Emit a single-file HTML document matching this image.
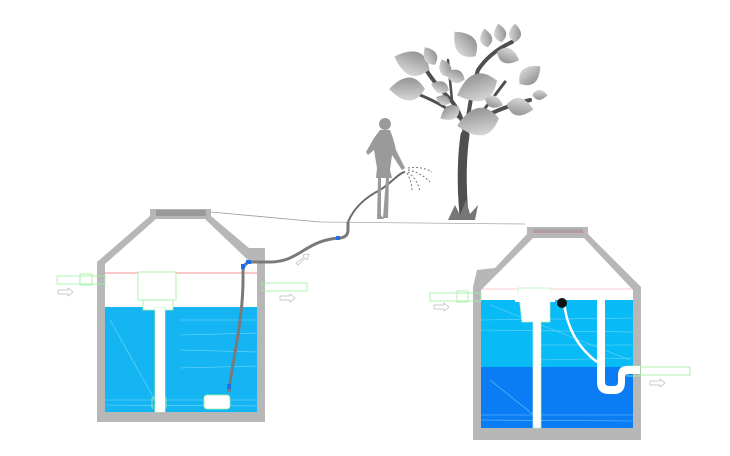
<!DOCTYPE html>
<html><head><meta charset="utf-8"><style>html,body{margin:0;padding:0;background:#fff}svg{display:block}</style></head>
<body>
<svg width="730" height="456" viewBox="0 0 730 456" xmlns="http://www.w3.org/2000/svg">
<defs>
<linearGradient id="lf" x1="0" y1="0" x2="0" y2="1"><stop offset="0" stop-color="#d6d6d6"/><stop offset="1" stop-color="#959595"/></linearGradient>
<path id="leaf" d="M-17 0 Q-4 -22 17 0 Q-4 22 -17 0 Z" fill="url(#lf)"/>
</defs>
<line x1="211" y1="212" x2="320" y2="222" stroke="#999" stroke-width="0.8"/>
<line x1="320" y1="222" x2="525" y2="224" stroke="#aaa" stroke-width="0.8"/>

<!-- LEFT TANK -->
<rect x="105" y="307" width="152" height="105" fill="#14b5f2"/>
<g stroke="#8fe0ff" stroke-width="0.6" opacity="0.8">
<line x1="180" y1="320" x2="257" y2="320"/><line x1="180" y1="335" x2="257" y2="333"/><line x1="180" y1="350" x2="257" y2="352"/><line x1="180" y1="368" x2="257" y2="366"/><line x1="105" y1="400" x2="257" y2="400"/><line x1="105" y1="405" x2="257" y2="406"/><line x1="110" y1="320" x2="155" y2="400"/>
</g>
<path d="M97 262 L150 216 L150 209 L211 209 L211 216 L249 248 L265 248 L265 422 L97 422 Z M105 270 L105 412 L257 412 L257 262 L250 262 L205 219 L156 219 L105 264 Z" fill="#b7b7b7" fill-rule="evenodd"/>
<rect x="156" y="210" width="50" height="6" fill="#9a9a9a"/>
<line x1="105" y1="273" x2="257" y2="273" stroke="#f07070" stroke-width="0.8"/>
<g stroke="#9ff09f" stroke-width="0.8" fill="none">
<rect x="57" y="276" width="48" height="8"/><rect x="80" y="274" width="12" height="11"/>
<rect x="138" y="272" width="38" height="28" fill="#fff"/><rect x="143" y="300" width="30" height="10" fill="#fff"/>
<rect x="155" y="308" width="10" height="104" fill="#fff"/>
<rect x="152" y="398" width="14" height="10"/>
<rect x="262" y="283" width="45" height="8"/>
</g>
<rect x="155" y="308" width="10" height="104" fill="#fff"/>
<path d="M58 290 L68 290 L68 288 L73 292 L68 296 L68 294 L58 294 Z M280 296 L290 296 L290 294 L295 298 L290 302 L290 300 L280 300 Z M296 263 L304 257 L303 255 L309 254 L307 260 L305 258 L298 265 Z" fill="#fff" stroke="#bbb" stroke-width="0.7"/>
<rect x="204" y="395" width="26" height="14" rx="3" fill="#fff" stroke="#9ff09f" stroke-width="0.8"/>
<path d="M229 392 C232 360 244 320 243 272 Q243 262 252 262 L270 262 C300 262 305 240 340 238 Q348 237 348 230 L348 222" stroke="#7a7a7a" stroke-width="3" fill="none"/>
<path d="M348 222 C355 205 370 195 380 190 C390 184 400 172 405 172" stroke="#6a6a6a" stroke-width="2" fill="none"/>
<rect x="241" y="264" width="4" height="5" fill="#1e6fe8"/><rect x="246" y="260" width="5" height="4" fill="#1e6fe8"/>
<rect x="227" y="384" width="4" height="5" fill="#1e6fe8"/><rect x="336" y="236" width="4" height="4" fill="#1e6fe8"/>

<!-- RIGHT TANK -->
<rect x="481" y="300" width="152" height="67" fill="#08baf5"/>
<rect x="481" y="367" width="152" height="61" fill="#0a7df5"/>
<g stroke="#9fe4ff" stroke-width="0.6" opacity="0.7">
<line x1="481" y1="320" x2="633" y2="318"/><line x1="481" y1="330" x2="633" y2="332"/><line x1="540" y1="345" x2="633" y2="345"/><line x1="540" y1="360" x2="633" y2="358"/><line x1="481" y1="415" x2="633" y2="415"/><line x1="481" y1="420" x2="633" y2="421"/><line x1="490" y1="305" x2="630" y2="360"/><line x1="490" y1="380" x2="540" y2="420"/>
</g>
<path d="M473 287 L477 270 L495 268 L527 234 L527 227 L588 227 L588 234 L641 287 L641 440 L473 440 Z M481 292 L481 428 L633 428 L633 290 L584 238 L533 238 L481 290 Z" fill="#b7b7b7" fill-rule="evenodd"/>
<rect x="533" y="229" width="50" height="4" fill="#a5a5a5"/>
<line x1="533" y1="232" x2="583" y2="232" stroke="#f07070" stroke-width="0.6"/>
<line x1="481" y1="289" x2="633" y2="289" stroke="#f0a0a0" stroke-width="0.6"/>
<g stroke="#9ff09f" stroke-width="0.8" fill="none">
<rect x="430" y="293" width="51" height="8"/><rect x="457" y="291" width="11" height="11"/>
<rect x="640" y="367" width="50" height="8"/><rect x="627" y="366" width="13" height="10"/>
</g>
<path d="M518 288 L550 288 L550 322 L541 322 L541 428 L533 428 L533 322 L522 322 Z" fill="#fff" stroke="#bff0bf" stroke-width="0.7"/>
<rect x="515" y="292" width="40" height="10" fill="#fff"/>
<path d="M597 298 L605 298 L605 382 Q605 386 609 386 L614 386 Q618 386 618 382 L618 375 Q618 366 627 366 L640 366 L640 374 L627 374 Q625 374 625 378 L625 382 Q625 394 614 394 L609 394 Q597 394 597 382 Z" fill="#fff"/>
<path d="M564 302 Q568 340 597 362" stroke="#fff" stroke-width="2.5" fill="none"/>
<circle cx="562" cy="303" r="5" fill="#111"/>
<path d="M434 305 L444 305 L444 303 L449 307 L444 311 L444 309 L434 309 Z M650 381 L660 381 L660 379 L665 383 L660 387 L660 385 L650 385 Z" fill="#fff" stroke="#bbb" stroke-width="0.7"/>

<!-- TREE -->
<g fill="none" stroke="#4f4f4f" stroke-linecap="round">
<path d="M464 215 Q460 170 465 135" stroke-width="9"/>
<path d="M465 135 Q462 110 446 95 Q432 80 425 68" stroke-width="4"/>
<path d="M462 120 Q445 105 420 95" stroke-width="3"/>
<path d="M466 135 Q470 95 478 70 Q490 52 512 42" stroke-width="4"/>
<path d="M467 128 Q490 110 530 100" stroke-width="4"/>
<path d="M480 115 Q495 95 505 82" stroke-width="3"/>
<path d="M452 100 L448 60" stroke-width="2.5"/>
</g>
<path d="M448 220 L455 205 L460 215 L466 200 L470 214 L478 205 L475 220 Z" fill="#777"/>
<g>
<use href="#leaf" transform="translate(412,63) rotate(200) scale(1.1)"/>
<use href="#leaf" transform="translate(407,89) rotate(180) scale(1.05)"/>
<use href="#leaf" transform="translate(430,56) rotate(240) scale(0.6)"/>
<use href="#leaf" transform="translate(445,68) rotate(250) scale(0.55)"/>
<use href="#leaf" transform="translate(440,87) rotate(200) scale(0.55)"/>
<use href="#leaf" transform="translate(465,44) rotate(230) scale(0.95)"/>
<use href="#leaf" transform="translate(486,38) rotate(260) scale(0.55)"/>
<use href="#leaf" transform="translate(500,33) rotate(260) scale(0.55)"/>
<use href="#leaf" transform="translate(515,33) rotate(270) scale(0.55)"/>
<use href="#leaf" transform="translate(508,56) rotate(20) scale(0.7)"/>
<use href="#leaf" transform="translate(477,88) rotate(160) scale(1.25)"/>
<use href="#leaf" transform="translate(455,76) rotate(200) scale(0.6)"/>
<use href="#leaf" transform="translate(530,75) rotate(-40) scale(0.8)"/>
<use href="#leaf" transform="translate(520,107) rotate(10) scale(0.8)"/>
<use href="#leaf" transform="translate(478,122) rotate(170) scale(1.25)"/>
<use href="#leaf" transform="translate(450,113) rotate(150) scale(0.65)"/>
<use href="#leaf" transform="translate(443,100) rotate(200) scale(0.45)"/>
<use href="#leaf" transform="translate(494,102) rotate(20) scale(0.55)"/>
<use href="#leaf" transform="translate(540,95) rotate(0) scale(0.45)"/>
</g>

<!-- PERSON -->
<g fill="#9a9a9a">
<circle cx="385" cy="124" r="6"/>
<path d="M380 130 L390 130 Q394 140 396 150 L405 168 L402 170 L392 155 L390 170 L392 178 L376 178 L377 168 L374 150 L368 155 L366 152 L374 138 Z"/>
<path d="M378 178 L381 178 L381 215 L384 219 L377 219 Z M386 178 L389 178 L388 218 L383 218 Z"/>
</g>
<g stroke="#777" stroke-width="1" stroke-dasharray="2 2" fill="none">
<path d="M408 170 Q420 172 430 182"/><path d="M408 172 Q418 180 420 192"/><path d="M408 168 Q422 166 432 172"/><path d="M407 173 Q412 182 412 192"/>
</g>
</svg>
</body></html>
